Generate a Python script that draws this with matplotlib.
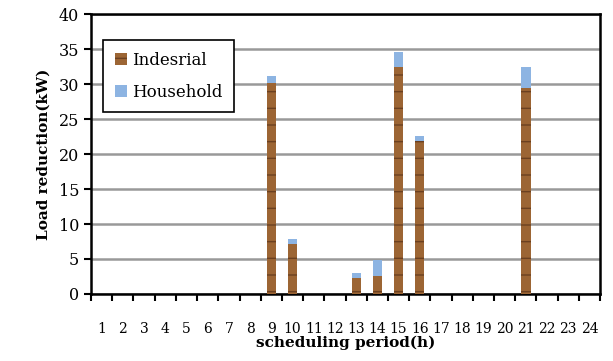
import numpy as np
import matplotlib
matplotlib.use("Agg")
import matplotlib.pyplot as plt

periods = list(range(1, 25))
industrial = [0, 0, 0, 0, 0, 0, 0, 0, 30.1, 7.1, 0, 0, 2.3, 2.5, 32.5, 21.9,
              0, 0, 0, 0, 29.4, 0, 0, 0]
household = [0, 0, 0, 0, 0, 0, 0, 0, 1.0, 0.8, 0, 0, 0.7, 2.4, 2.1, 0.7,
             0, 0, 0, 0, 3.0, 0, 0, 0]
y_ticks = [0, 5, 10, 15, 20, 25, 30, 35, 40]

plt.rcParams["font.family"] = "DejaVu Serif"
plt.rcParams["hatch.linewidth"] = 1.0

fig = plt.figure(figsize=(6.13, 3.61), dpi=100)
ax = fig.add_axes([0.1485, 0.1856, 0.8305, 0.7756])

x = np.array(periods)
# wood-like brown fill with a faint dark grain
ax.bar(x, industrial, width=0.44, color="#9c6534", edgecolor="#6b4020",
       linewidth=0, hatch="-", label="Indesrial", zorder=3)
ax.bar(x, household, width=0.44, bottom=industrial, color="#8db4e2",
       linewidth=0, label="Household", zorder=3)

ax.set_xlim(0.5, 24.5)
ax.set_ylim(0, 40)
ax.set_yticks(y_ticks)
ax.yaxis.grid(True, color="#999999", linewidth=1.8, zorder=0)

ax.set_xticks(x)
ax.set_xticklabels([str(p) for p in periods], fontsize=10)
ax.set_xticks(np.arange(0.5, 25, 1), minor=True)
ax.tick_params(axis="x", which="major", length=0, pad=20)
ax.tick_params(axis="x", which="minor", length=5, width=1.5, direction="out")
ax.tick_params(axis="y", length=5, width=1.5, direction="out", labelsize=11.5)

for s in ax.spines.values():
    s.set_linewidth(1.8)

ax.set_ylabel("Load reduction(kW)", fontsize=11, fontweight="bold", labelpad=6)
ax.set_xlabel("scheduling period(h)", fontsize=11, fontweight="bold", labelpad=0)

leg = ax.legend(loc="upper left", bbox_to_anchor=(0.024, 0.907), fontsize=12,
                handlelength=0.7, handleheight=0.7, handletextpad=0.3,
                labelspacing=0.9, fancybox=False, framealpha=1,
                borderpad=0.7, borderaxespad=0)
leg.get_frame().set_edgecolor("black")
leg.get_frame().set_linewidth(1.2)

fig.savefig("out.png", dpi=100)
